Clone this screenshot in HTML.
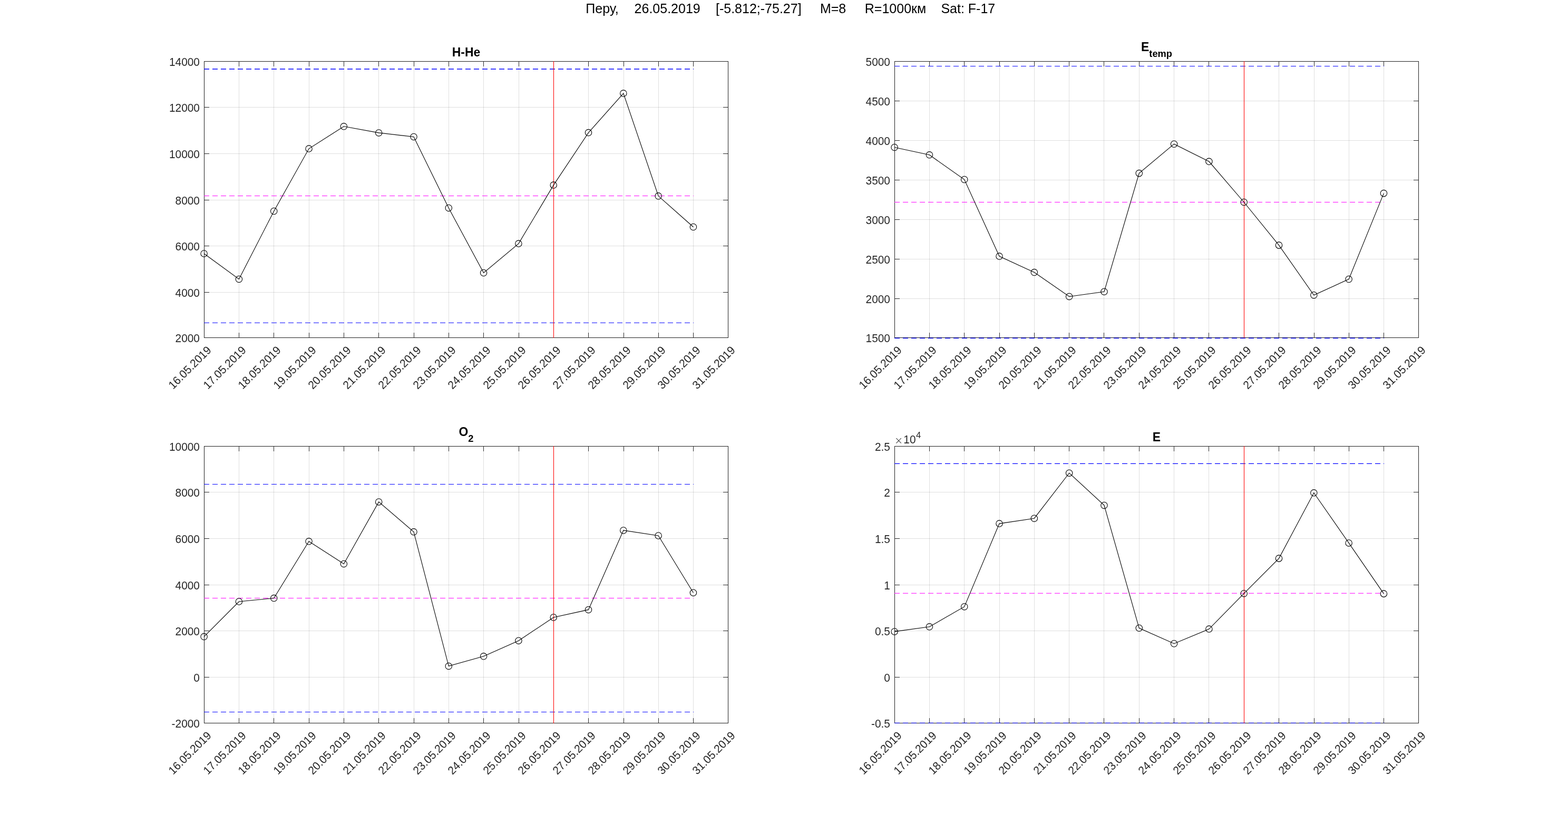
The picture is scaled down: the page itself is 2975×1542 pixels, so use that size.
<!DOCTYPE html>
<html><head><meta charset="utf-8"><title>Перу 26.05.2019</title>
<style>
html,body{margin:0;padding:0;background:#fff;width:2975px;height:1542px;overflow:hidden}
svg{display:block}
text{font-family:"Liberation Sans",Arial,Helvetica,sans-serif}
.tk{font-size:20.83px;fill:#262626}
.tt{font-size:22.9px;font-weight:bold;fill:#000}
.st{font-size:25px;fill:#000}
</style></head><body>
<svg width="2975" height="1542" viewBox="0 0 2975 1542">
<rect x="0" y="0" width="2975" height="1542" fill="#fff"/>
<text class="st" transform="translate(1111.3 25) scale(1 1.04)">Перу,</text>
<text class="st" transform="translate(1203.6 25) scale(1 1.04)">26.05.2019</text>
<text class="st" transform="translate(1358 25) scale(1 1.04)">[-5.812;-75.27]</text>
<text class="st" transform="translate(1555.9 25) scale(1 1.04)">M=8</text>
<text class="st" transform="translate(1640.8 25) scale(1 1.04)">R=1000км</text>
<text class="st" transform="translate(1785.4 25) scale(1 1.04)">Sat: F-17</text>
<g>
<path d="M453.5 117 V640 M519.5 117 V640 M586.5 117 V640 M652.5 117 V640 M718.5 117 V640 M785.5 117 V640 M851.5 117 V640 M917.5 117 V640 M984.5 117 V640 M1050.5 117 V640 M1116.5 117 V640 M1183.5 117 V640 M1249.5 117 V640 M1315.5 117 V640 M388 203.5 H1381 M388 291.5 H1381 M388 379.5 H1381 M388 466.5 H1381 M388 554.5 H1381" stroke="#262626" stroke-opacity="0.15" stroke-width="1" fill="none"/>
<path d="M453.5 116 v10 M453.5 641 v-10 M519.5 116 v10 M519.5 641 v-10 M586.5 116 v10 M586.5 641 v-10 M652.5 116 v10 M652.5 641 v-10 M718.5 116 v10 M718.5 641 v-10 M785.5 116 v10 M785.5 641 v-10 M851.5 116 v10 M851.5 641 v-10 M917.5 116 v10 M917.5 641 v-10 M984.5 116 v10 M984.5 641 v-10 M1050.5 116 v10 M1050.5 641 v-10 M1116.5 116 v10 M1116.5 641 v-10 M1183.5 116 v10 M1183.5 641 v-10 M1249.5 116 v10 M1249.5 641 v-10 M1315.5 116 v10 M1315.5 641 v-10 M387 203.5 h10 M1382 203.5 h-10 M387 291.5 h10 M1382 291.5 h-10 M387 379.5 h10 M1382 379.5 h-10 M387 466.5 h10 M1382 466.5 h-10 M387 554.5 h10 M1382 554.5 h-10" stroke="#262626" stroke-width="1" fill="none"/>
<rect x="387.5" y="116.5" width="994" height="524" stroke="#262626" stroke-width="1.05" fill="none"/>
<path d="M387 131 H1316" stroke="#0000ff" stroke-width="1.33" stroke-dasharray="10 6" fill="none"/>
<path d="M387 612.3 H1316" stroke="#0000ff" stroke-width="1.1" stroke-dasharray="10 6" fill="none"/>
<path d="M387 371.5 H1316" stroke="#ff00ff" stroke-width="1.1" stroke-dasharray="10 6" fill="none"/>
<path d="M1050.5 116 V641" stroke="#ff0000" stroke-width="1.05" fill="none"/>
<polyline points="387.1,481 453.41,529.4 519.72,400.5 586.03,282.1 652.34,239.8 718.65,251.9 784.96,259.5 851.27,394.4 917.58,517.5 983.89,462.1 1050.2,351.1 1116.51,251.6 1182.82,177.1 1249.13,371.8 1315.44,430.5" stroke="#000" stroke-width="1.1" fill="none" stroke-linejoin="miter"/>
<path d="M380.9 481 a6.2 6.2 0 1 0 12.4 0 a6.2 6.2 0 1 0 -12.4 0 M447.21 529.4 a6.2 6.2 0 1 0 12.4 0 a6.2 6.2 0 1 0 -12.4 0 M513.52 400.5 a6.2 6.2 0 1 0 12.4 0 a6.2 6.2 0 1 0 -12.4 0 M579.83 282.1 a6.2 6.2 0 1 0 12.4 0 a6.2 6.2 0 1 0 -12.4 0 M646.14 239.8 a6.2 6.2 0 1 0 12.4 0 a6.2 6.2 0 1 0 -12.4 0 M712.45 251.9 a6.2 6.2 0 1 0 12.4 0 a6.2 6.2 0 1 0 -12.4 0 M778.76 259.5 a6.2 6.2 0 1 0 12.4 0 a6.2 6.2 0 1 0 -12.4 0 M845.07 394.4 a6.2 6.2 0 1 0 12.4 0 a6.2 6.2 0 1 0 -12.4 0 M911.38 517.5 a6.2 6.2 0 1 0 12.4 0 a6.2 6.2 0 1 0 -12.4 0 M977.69 462.1 a6.2 6.2 0 1 0 12.4 0 a6.2 6.2 0 1 0 -12.4 0 M1044 351.1 a6.2 6.2 0 1 0 12.4 0 a6.2 6.2 0 1 0 -12.4 0 M1110.31 251.6 a6.2 6.2 0 1 0 12.4 0 a6.2 6.2 0 1 0 -12.4 0 M1176.62 177.1 a6.2 6.2 0 1 0 12.4 0 a6.2 6.2 0 1 0 -12.4 0 M1242.93 371.8 a6.2 6.2 0 1 0 12.4 0 a6.2 6.2 0 1 0 -12.4 0 M1309.24 430.5 a6.2 6.2 0 1 0 12.4 0 a6.2 6.2 0 1 0 -12.4 0" stroke="#000" stroke-width="1.1" fill="none"/>
<text class="tk" text-anchor="end" transform="translate(378.9 124.5) scale(1 1.04)">14000</text>
<text class="tk" text-anchor="end" transform="translate(378.9 211.5) scale(1 1.04)">12000</text>
<text class="tk" text-anchor="end" transform="translate(378.9 299.5) scale(1 1.04)">10000</text>
<text class="tk" text-anchor="end" transform="translate(378.9 387.5) scale(1 1.04)">8000</text>
<text class="tk" text-anchor="end" transform="translate(378.9 474.5) scale(1 1.04)">6000</text>
<text class="tk" text-anchor="end" transform="translate(378.9 562.5) scale(1 1.04)">4000</text>
<text class="tk" text-anchor="end" transform="translate(378.9 648.5) scale(1 1.04)">2000</text>
<text class="tk" text-anchor="end" transform="translate(402.1 665.5) rotate(-45) scale(1 1.04)">16.05.2019</text>
<text class="tk" text-anchor="end" transform="translate(468.1 665.5) rotate(-45) scale(1 1.04)">17.05.2019</text>
<text class="tk" text-anchor="end" transform="translate(534.1 665.5) rotate(-45) scale(1 1.04)">18.05.2019</text>
<text class="tk" text-anchor="end" transform="translate(601.1 665.5) rotate(-45) scale(1 1.04)">19.05.2019</text>
<text class="tk" text-anchor="end" transform="translate(667.1 665.5) rotate(-45) scale(1 1.04)">20.05.2019</text>
<text class="tk" text-anchor="end" transform="translate(733.1 665.5) rotate(-45) scale(1 1.04)">21.05.2019</text>
<text class="tk" text-anchor="end" transform="translate(800.1 665.5) rotate(-45) scale(1 1.04)">22.05.2019</text>
<text class="tk" text-anchor="end" transform="translate(866.1 665.5) rotate(-45) scale(1 1.04)">23.05.2019</text>
<text class="tk" text-anchor="end" transform="translate(932.1 665.5) rotate(-45) scale(1 1.04)">24.05.2019</text>
<text class="tk" text-anchor="end" transform="translate(999.1 665.5) rotate(-45) scale(1 1.04)">25.05.2019</text>
<text class="tk" text-anchor="end" transform="translate(1065.1 665.5) rotate(-45) scale(1 1.04)">26.05.2019</text>
<text class="tk" text-anchor="end" transform="translate(1131.1 665.5) rotate(-45) scale(1 1.04)">27.05.2019</text>
<text class="tk" text-anchor="end" transform="translate(1198.1 665.5) rotate(-45) scale(1 1.04)">28.05.2019</text>
<text class="tk" text-anchor="end" transform="translate(1264.1 665.5) rotate(-45) scale(1 1.04)">29.05.2019</text>
<text class="tk" text-anchor="end" transform="translate(1330.1 665.5) rotate(-45) scale(1 1.04)">30.05.2019</text>
<text class="tk" text-anchor="end" transform="translate(1396.1 665.5) rotate(-45) scale(1 1.04)">31.05.2019</text>
<text class="tt" text-anchor="middle" transform="translate(884.5 106.8) scale(1 1.04)">H-He</text>
</g>
<g>
<path d="M1763.5 117 V640 M1829.5 117 V640 M1896.5 117 V640 M1962.5 117 V640 M2028.5 117 V640 M2094.5 117 V640 M2161.5 117 V640 M2227.5 117 V640 M2293.5 117 V640 M2360.5 117 V640 M2426.5 117 V640 M2493.5 117 V640 M2559.5 117 V640 M2625.5 117 V640 M1698 191.5 H2691 M1698 266.5 H2691 M1698 341.5 H2691 M1698 416.5 H2691 M1698 491.5 H2691 M1698 566.5 H2691" stroke="#262626" stroke-opacity="0.15" stroke-width="1" fill="none"/>
<path d="M1763.5 116 v10 M1763.5 641 v-10 M1829.5 116 v10 M1829.5 641 v-10 M1896.5 116 v10 M1896.5 641 v-10 M1962.5 116 v10 M1962.5 641 v-10 M2028.5 116 v10 M2028.5 641 v-10 M2094.5 116 v10 M2094.5 641 v-10 M2161.5 116 v10 M2161.5 641 v-10 M2227.5 116 v10 M2227.5 641 v-10 M2293.5 116 v10 M2293.5 641 v-10 M2360.5 116 v10 M2360.5 641 v-10 M2426.5 116 v10 M2426.5 641 v-10 M2493.5 116 v10 M2493.5 641 v-10 M2559.5 116 v10 M2559.5 641 v-10 M2625.5 116 v10 M2625.5 641 v-10 M1697 191.5 h10 M2692 191.5 h-10 M1697 266.5 h10 M2692 266.5 h-10 M1697 341.5 h10 M2692 341.5 h-10 M1697 416.5 h10 M2692 416.5 h-10 M1697 491.5 h10 M2692 491.5 h-10 M1697 566.5 h10 M2692 566.5 h-10" stroke="#262626" stroke-width="1" fill="none"/>
<rect x="1697.5" y="116.5" width="994" height="524" stroke="#262626" stroke-width="1.05" fill="none"/>
<path d="M1697 125.5 H2626" stroke="#0000ff" stroke-width="1.1" stroke-dasharray="10 6" fill="none"/>
<path d="M1697 641.4 H2626" stroke="#0000ff" stroke-width="1.1" stroke-dasharray="10 6" fill="none"/>
<path d="M1697 383.5 H2626" stroke="#ff00ff" stroke-width="1.1" stroke-dasharray="10 6" fill="none"/>
<path d="M2360.5 116 V641" stroke="#ff0000" stroke-width="1.05" fill="none"/>
<polyline points="1697.1,279.5 1763.41,293.8 1829.72,340.5 1896.03,486.1 1962.34,516.6 2028.65,562.4 2094.96,553.2 2161.27,328.6 2227.58,273.2 2293.89,306.3 2360.2,383.5 2426.51,465.1 2492.82,559.7 2559.13,529.5 2625.44,366.6" stroke="#000" stroke-width="1.1" fill="none" stroke-linejoin="miter"/>
<path d="M1690.9 279.5 a6.2 6.2 0 1 0 12.4 0 a6.2 6.2 0 1 0 -12.4 0 M1757.21 293.8 a6.2 6.2 0 1 0 12.4 0 a6.2 6.2 0 1 0 -12.4 0 M1823.52 340.5 a6.2 6.2 0 1 0 12.4 0 a6.2 6.2 0 1 0 -12.4 0 M1889.83 486.1 a6.2 6.2 0 1 0 12.4 0 a6.2 6.2 0 1 0 -12.4 0 M1956.14 516.6 a6.2 6.2 0 1 0 12.4 0 a6.2 6.2 0 1 0 -12.4 0 M2022.45 562.4 a6.2 6.2 0 1 0 12.4 0 a6.2 6.2 0 1 0 -12.4 0 M2088.76 553.2 a6.2 6.2 0 1 0 12.4 0 a6.2 6.2 0 1 0 -12.4 0 M2155.07 328.6 a6.2 6.2 0 1 0 12.4 0 a6.2 6.2 0 1 0 -12.4 0 M2221.38 273.2 a6.2 6.2 0 1 0 12.4 0 a6.2 6.2 0 1 0 -12.4 0 M2287.69 306.3 a6.2 6.2 0 1 0 12.4 0 a6.2 6.2 0 1 0 -12.4 0 M2354 383.5 a6.2 6.2 0 1 0 12.4 0 a6.2 6.2 0 1 0 -12.4 0 M2420.31 465.1 a6.2 6.2 0 1 0 12.4 0 a6.2 6.2 0 1 0 -12.4 0 M2486.62 559.7 a6.2 6.2 0 1 0 12.4 0 a6.2 6.2 0 1 0 -12.4 0 M2552.93 529.5 a6.2 6.2 0 1 0 12.4 0 a6.2 6.2 0 1 0 -12.4 0 M2619.24 366.6 a6.2 6.2 0 1 0 12.4 0 a6.2 6.2 0 1 0 -12.4 0" stroke="#000" stroke-width="1.1" fill="none"/>
<text class="tk" text-anchor="end" transform="translate(1688.9 124.5) scale(1 1.04)">5000</text>
<text class="tk" text-anchor="end" transform="translate(1688.9 199.5) scale(1 1.04)">4500</text>
<text class="tk" text-anchor="end" transform="translate(1688.9 274.5) scale(1 1.04)">4000</text>
<text class="tk" text-anchor="end" transform="translate(1688.9 349.5) scale(1 1.04)">3500</text>
<text class="tk" text-anchor="end" transform="translate(1688.9 424.5) scale(1 1.04)">3000</text>
<text class="tk" text-anchor="end" transform="translate(1688.9 499.5) scale(1 1.04)">2500</text>
<text class="tk" text-anchor="end" transform="translate(1688.9 574.5) scale(1 1.04)">2000</text>
<text class="tk" text-anchor="end" transform="translate(1688.9 648.5) scale(1 1.04)">1500</text>
<text class="tk" text-anchor="end" transform="translate(1712.1 665.5) rotate(-45) scale(1 1.04)">16.05.2019</text>
<text class="tk" text-anchor="end" transform="translate(1778.1 665.5) rotate(-45) scale(1 1.04)">17.05.2019</text>
<text class="tk" text-anchor="end" transform="translate(1844.1 665.5) rotate(-45) scale(1 1.04)">18.05.2019</text>
<text class="tk" text-anchor="end" transform="translate(1911.1 665.5) rotate(-45) scale(1 1.04)">19.05.2019</text>
<text class="tk" text-anchor="end" transform="translate(1977.1 665.5) rotate(-45) scale(1 1.04)">20.05.2019</text>
<text class="tk" text-anchor="end" transform="translate(2043.1 665.5) rotate(-45) scale(1 1.04)">21.05.2019</text>
<text class="tk" text-anchor="end" transform="translate(2109.1 665.5) rotate(-45) scale(1 1.04)">22.05.2019</text>
<text class="tk" text-anchor="end" transform="translate(2176.1 665.5) rotate(-45) scale(1 1.04)">23.05.2019</text>
<text class="tk" text-anchor="end" transform="translate(2242.1 665.5) rotate(-45) scale(1 1.04)">24.05.2019</text>
<text class="tk" text-anchor="end" transform="translate(2308.1 665.5) rotate(-45) scale(1 1.04)">25.05.2019</text>
<text class="tk" text-anchor="end" transform="translate(2375.1 665.5) rotate(-45) scale(1 1.04)">26.05.2019</text>
<text class="tk" text-anchor="end" transform="translate(2441.1 665.5) rotate(-45) scale(1 1.04)">27.05.2019</text>
<text class="tk" text-anchor="end" transform="translate(2508.1 665.5) rotate(-45) scale(1 1.04)">28.05.2019</text>
<text class="tk" text-anchor="end" transform="translate(2574.1 665.5) rotate(-45) scale(1 1.04)">29.05.2019</text>
<text class="tk" text-anchor="end" transform="translate(2640.1 665.5) rotate(-45) scale(1 1.04)">30.05.2019</text>
<text class="tk" text-anchor="end" transform="translate(2706.1 665.5) rotate(-45) scale(1 1.04)">31.05.2019</text>
<text class="tt" text-anchor="middle" transform="translate(2194.5 96.7) scale(1 1.04)">E<tspan dy="11.1" style="font-size:18.3px">temp</tspan></text>
</g>
<g>
<path d="M453.5 847 V1371 M519.5 847 V1371 M586.5 847 V1371 M652.5 847 V1371 M718.5 847 V1371 M785.5 847 V1371 M851.5 847 V1371 M917.5 847 V1371 M984.5 847 V1371 M1050.5 847 V1371 M1116.5 847 V1371 M1183.5 847 V1371 M1249.5 847 V1371 M1315.5 847 V1371 M388 933.5 H1381 M388 1021.5 H1381 M388 1109.5 H1381 M388 1196.5 H1381 M388 1284.5 H1381" stroke="#262626" stroke-opacity="0.15" stroke-width="1" fill="none"/>
<path d="M453.5 846 v10 M453.5 1372 v-10 M519.5 846 v10 M519.5 1372 v-10 M586.5 846 v10 M586.5 1372 v-10 M652.5 846 v10 M652.5 1372 v-10 M718.5 846 v10 M718.5 1372 v-10 M785.5 846 v10 M785.5 1372 v-10 M851.5 846 v10 M851.5 1372 v-10 M917.5 846 v10 M917.5 1372 v-10 M984.5 846 v10 M984.5 1372 v-10 M1050.5 846 v10 M1050.5 1372 v-10 M1116.5 846 v10 M1116.5 1372 v-10 M1183.5 846 v10 M1183.5 1372 v-10 M1249.5 846 v10 M1249.5 1372 v-10 M1315.5 846 v10 M1315.5 1372 v-10 M387 933.5 h10 M1382 933.5 h-10 M387 1021.5 h10 M1382 1021.5 h-10 M387 1109.5 h10 M1382 1109.5 h-10 M387 1196.5 h10 M1382 1196.5 h-10 M387 1284.5 h10 M1382 1284.5 h-10" stroke="#262626" stroke-width="1" fill="none"/>
<rect x="387.5" y="846.5" width="994" height="525" stroke="#262626" stroke-width="1.05" fill="none"/>
<path d="M387 918.55 H1316" stroke="#0000ff" stroke-width="1.1" stroke-dasharray="10 6" fill="none"/>
<path d="M387 1350.5 H1316" stroke="#0000ff" stroke-width="1.1" stroke-dasharray="10 6" fill="none"/>
<path d="M387 1134.5 H1316" stroke="#ff00ff" stroke-width="1.1" stroke-dasharray="10 6" fill="none"/>
<path d="M1050.5 846 V1372" stroke="#ff0000" stroke-width="1.05" fill="none"/>
<polyline points="387.1,1207.6 453.41,1141 519.72,1134.6 586.03,1026.8 652.34,1069.4 718.65,951.9 784.96,1008.8 851.27,1263.4 917.58,1244.8 983.89,1215.2 1050.2,1171 1116.51,1156.4 1182.82,1005.9 1249.13,1016 1315.44,1124.2" stroke="#000" stroke-width="1.1" fill="none" stroke-linejoin="miter"/>
<path d="M380.9 1207.6 a6.2 6.2 0 1 0 12.4 0 a6.2 6.2 0 1 0 -12.4 0 M447.21 1141 a6.2 6.2 0 1 0 12.4 0 a6.2 6.2 0 1 0 -12.4 0 M513.52 1134.6 a6.2 6.2 0 1 0 12.4 0 a6.2 6.2 0 1 0 -12.4 0 M579.83 1026.8 a6.2 6.2 0 1 0 12.4 0 a6.2 6.2 0 1 0 -12.4 0 M646.14 1069.4 a6.2 6.2 0 1 0 12.4 0 a6.2 6.2 0 1 0 -12.4 0 M712.45 951.9 a6.2 6.2 0 1 0 12.4 0 a6.2 6.2 0 1 0 -12.4 0 M778.76 1008.8 a6.2 6.2 0 1 0 12.4 0 a6.2 6.2 0 1 0 -12.4 0 M845.07 1263.4 a6.2 6.2 0 1 0 12.4 0 a6.2 6.2 0 1 0 -12.4 0 M911.38 1244.8 a6.2 6.2 0 1 0 12.4 0 a6.2 6.2 0 1 0 -12.4 0 M977.69 1215.2 a6.2 6.2 0 1 0 12.4 0 a6.2 6.2 0 1 0 -12.4 0 M1044 1171 a6.2 6.2 0 1 0 12.4 0 a6.2 6.2 0 1 0 -12.4 0 M1110.31 1156.4 a6.2 6.2 0 1 0 12.4 0 a6.2 6.2 0 1 0 -12.4 0 M1176.62 1005.9 a6.2 6.2 0 1 0 12.4 0 a6.2 6.2 0 1 0 -12.4 0 M1242.93 1016 a6.2 6.2 0 1 0 12.4 0 a6.2 6.2 0 1 0 -12.4 0 M1309.24 1124.2 a6.2 6.2 0 1 0 12.4 0 a6.2 6.2 0 1 0 -12.4 0" stroke="#000" stroke-width="1.1" fill="none"/>
<text class="tk" text-anchor="end" transform="translate(378.9 854.5) scale(1 1.04)">10000</text>
<text class="tk" text-anchor="end" transform="translate(378.9 941.5) scale(1 1.04)">8000</text>
<text class="tk" text-anchor="end" transform="translate(378.9 1029.5) scale(1 1.04)">6000</text>
<text class="tk" text-anchor="end" transform="translate(378.9 1117.5) scale(1 1.04)">4000</text>
<text class="tk" text-anchor="end" transform="translate(378.9 1204.5) scale(1 1.04)">2000</text>
<text class="tk" text-anchor="end" transform="translate(378.9 1292.5) scale(1 1.04)">0</text>
<text class="tk" text-anchor="end" transform="translate(378.9 1379.5) scale(1 1.04)">-2000</text>
<text class="tk" text-anchor="end" transform="translate(402.1 1396.5) rotate(-45) scale(1 1.04)">16.05.2019</text>
<text class="tk" text-anchor="end" transform="translate(468.1 1396.5) rotate(-45) scale(1 1.04)">17.05.2019</text>
<text class="tk" text-anchor="end" transform="translate(534.1 1396.5) rotate(-45) scale(1 1.04)">18.05.2019</text>
<text class="tk" text-anchor="end" transform="translate(601.1 1396.5) rotate(-45) scale(1 1.04)">19.05.2019</text>
<text class="tk" text-anchor="end" transform="translate(667.1 1396.5) rotate(-45) scale(1 1.04)">20.05.2019</text>
<text class="tk" text-anchor="end" transform="translate(733.1 1396.5) rotate(-45) scale(1 1.04)">21.05.2019</text>
<text class="tk" text-anchor="end" transform="translate(800.1 1396.5) rotate(-45) scale(1 1.04)">22.05.2019</text>
<text class="tk" text-anchor="end" transform="translate(866.1 1396.5) rotate(-45) scale(1 1.04)">23.05.2019</text>
<text class="tk" text-anchor="end" transform="translate(932.1 1396.5) rotate(-45) scale(1 1.04)">24.05.2019</text>
<text class="tk" text-anchor="end" transform="translate(999.1 1396.5) rotate(-45) scale(1 1.04)">25.05.2019</text>
<text class="tk" text-anchor="end" transform="translate(1065.1 1396.5) rotate(-45) scale(1 1.04)">26.05.2019</text>
<text class="tk" text-anchor="end" transform="translate(1131.1 1396.5) rotate(-45) scale(1 1.04)">27.05.2019</text>
<text class="tk" text-anchor="end" transform="translate(1198.1 1396.5) rotate(-45) scale(1 1.04)">28.05.2019</text>
<text class="tk" text-anchor="end" transform="translate(1264.1 1396.5) rotate(-45) scale(1 1.04)">29.05.2019</text>
<text class="tk" text-anchor="end" transform="translate(1330.1 1396.5) rotate(-45) scale(1 1.04)">30.05.2019</text>
<text class="tk" text-anchor="end" transform="translate(1396.1 1396.5) rotate(-45) scale(1 1.04)">31.05.2019</text>
<text class="tt" text-anchor="middle" transform="translate(884.5 826.6) scale(1 1.04)">O<tspan dy="11.1" style="font-size:18.3px">2</tspan></text>
</g>
<g>
<path d="M1763.5 847 V1371 M1829.5 847 V1371 M1896.5 847 V1371 M1962.5 847 V1371 M2028.5 847 V1371 M2094.5 847 V1371 M2161.5 847 V1371 M2227.5 847 V1371 M2293.5 847 V1371 M2360.5 847 V1371 M2426.5 847 V1371 M2493.5 847 V1371 M2559.5 847 V1371 M2625.5 847 V1371 M1698 933.5 H2691 M1698 1021.5 H2691 M1698 1109.5 H2691 M1698 1196.5 H2691 M1698 1284.5 H2691" stroke="#262626" stroke-opacity="0.15" stroke-width="1" fill="none"/>
<path d="M1763.5 846 v10 M1763.5 1372 v-10 M1829.5 846 v10 M1829.5 1372 v-10 M1896.5 846 v10 M1896.5 1372 v-10 M1962.5 846 v10 M1962.5 1372 v-10 M2028.5 846 v10 M2028.5 1372 v-10 M2094.5 846 v10 M2094.5 1372 v-10 M2161.5 846 v10 M2161.5 1372 v-10 M2227.5 846 v10 M2227.5 1372 v-10 M2293.5 846 v10 M2293.5 1372 v-10 M2360.5 846 v10 M2360.5 1372 v-10 M2426.5 846 v10 M2426.5 1372 v-10 M2493.5 846 v10 M2493.5 1372 v-10 M2559.5 846 v10 M2559.5 1372 v-10 M2625.5 846 v10 M2625.5 1372 v-10 M1697 933.5 h10 M2692 933.5 h-10 M1697 1021.5 h10 M2692 1021.5 h-10 M1697 1109.5 h10 M2692 1109.5 h-10 M1697 1196.5 h10 M2692 1196.5 h-10 M1697 1284.5 h10 M2692 1284.5 h-10" stroke="#262626" stroke-width="1" fill="none"/>
<rect x="1697.5" y="846.5" width="994" height="525" stroke="#262626" stroke-width="1.05" fill="none"/>
<path d="M1697 879.4 H2626" stroke="#0000ff" stroke-width="1.1" stroke-dasharray="10 6" fill="none"/>
<path d="M1697 1371.3 H2626" stroke="#0000ff" stroke-width="1.1" stroke-dasharray="10 6" fill="none"/>
<path d="M1697 1125.3 H2626" stroke="#ff00ff" stroke-width="1.1" stroke-dasharray="10 6" fill="none"/>
<path d="M2360.5 846 V1372" stroke="#ff0000" stroke-width="1.05" fill="none"/>
<polyline points="1697.1,1197.9 1763.41,1188.8 1829.72,1150.7 1896.03,993.1 1962.34,983.2 2028.65,897.2 2094.96,958.4 2161.27,1191.3 2227.58,1220.7 2293.89,1193.1 2360.2,1125.7 2426.51,1059.1 2492.82,934.8 2559.13,1029.9 2625.44,1126.1" stroke="#000" stroke-width="1.1" fill="none" stroke-linejoin="miter"/>
<path d="M1690.9 1197.9 a6.2 6.2 0 1 0 12.4 0 a6.2 6.2 0 1 0 -12.4 0 M1757.21 1188.8 a6.2 6.2 0 1 0 12.4 0 a6.2 6.2 0 1 0 -12.4 0 M1823.52 1150.7 a6.2 6.2 0 1 0 12.4 0 a6.2 6.2 0 1 0 -12.4 0 M1889.83 993.1 a6.2 6.2 0 1 0 12.4 0 a6.2 6.2 0 1 0 -12.4 0 M1956.14 983.2 a6.2 6.2 0 1 0 12.4 0 a6.2 6.2 0 1 0 -12.4 0 M2022.45 897.2 a6.2 6.2 0 1 0 12.4 0 a6.2 6.2 0 1 0 -12.4 0 M2088.76 958.4 a6.2 6.2 0 1 0 12.4 0 a6.2 6.2 0 1 0 -12.4 0 M2155.07 1191.3 a6.2 6.2 0 1 0 12.4 0 a6.2 6.2 0 1 0 -12.4 0 M2221.38 1220.7 a6.2 6.2 0 1 0 12.4 0 a6.2 6.2 0 1 0 -12.4 0 M2287.69 1193.1 a6.2 6.2 0 1 0 12.4 0 a6.2 6.2 0 1 0 -12.4 0 M2354 1125.7 a6.2 6.2 0 1 0 12.4 0 a6.2 6.2 0 1 0 -12.4 0 M2420.31 1059.1 a6.2 6.2 0 1 0 12.4 0 a6.2 6.2 0 1 0 -12.4 0 M2486.62 934.8 a6.2 6.2 0 1 0 12.4 0 a6.2 6.2 0 1 0 -12.4 0 M2552.93 1029.9 a6.2 6.2 0 1 0 12.4 0 a6.2 6.2 0 1 0 -12.4 0 M2619.24 1126.1 a6.2 6.2 0 1 0 12.4 0 a6.2 6.2 0 1 0 -12.4 0" stroke="#000" stroke-width="1.1" fill="none"/>
<text class="tk" text-anchor="end" transform="translate(1688.9 854.5) scale(1 1.04)">2.5</text>
<text class="tk" text-anchor="end" transform="translate(1688.9 941.5) scale(1 1.04)">2</text>
<text class="tk" text-anchor="end" transform="translate(1688.9 1029.5) scale(1 1.04)">1.5</text>
<text class="tk" text-anchor="end" transform="translate(1688.9 1117.5) scale(1 1.04)">1</text>
<text class="tk" text-anchor="end" transform="translate(1688.9 1204.5) scale(1 1.04)">0.5</text>
<text class="tk" text-anchor="end" transform="translate(1688.9 1292.5) scale(1 1.04)">0</text>
<text class="tk" text-anchor="end" transform="translate(1688.9 1379.5) scale(1 1.04)">-0.5</text>
<text class="tk" text-anchor="end" transform="translate(1712.1 1396.5) rotate(-45) scale(1 1.04)">16.05.2019</text>
<text class="tk" text-anchor="end" transform="translate(1778.1 1396.5) rotate(-45) scale(1 1.04)">17.05.2019</text>
<text class="tk" text-anchor="end" transform="translate(1844.1 1396.5) rotate(-45) scale(1 1.04)">18.05.2019</text>
<text class="tk" text-anchor="end" transform="translate(1911.1 1396.5) rotate(-45) scale(1 1.04)">19.05.2019</text>
<text class="tk" text-anchor="end" transform="translate(1977.1 1396.5) rotate(-45) scale(1 1.04)">20.05.2019</text>
<text class="tk" text-anchor="end" transform="translate(2043.1 1396.5) rotate(-45) scale(1 1.04)">21.05.2019</text>
<text class="tk" text-anchor="end" transform="translate(2109.1 1396.5) rotate(-45) scale(1 1.04)">22.05.2019</text>
<text class="tk" text-anchor="end" transform="translate(2176.1 1396.5) rotate(-45) scale(1 1.04)">23.05.2019</text>
<text class="tk" text-anchor="end" transform="translate(2242.1 1396.5) rotate(-45) scale(1 1.04)">24.05.2019</text>
<text class="tk" text-anchor="end" transform="translate(2308.1 1396.5) rotate(-45) scale(1 1.04)">25.05.2019</text>
<text class="tk" text-anchor="end" transform="translate(2375.1 1396.5) rotate(-45) scale(1 1.04)">26.05.2019</text>
<text class="tk" text-anchor="end" transform="translate(2441.1 1396.5) rotate(-45) scale(1 1.04)">27.05.2019</text>
<text class="tk" text-anchor="end" transform="translate(2508.1 1396.5) rotate(-45) scale(1 1.04)">28.05.2019</text>
<text class="tk" text-anchor="end" transform="translate(2574.1 1396.5) rotate(-45) scale(1 1.04)">29.05.2019</text>
<text class="tk" text-anchor="end" transform="translate(2640.1 1396.5) rotate(-45) scale(1 1.04)">30.05.2019</text>
<text class="tk" text-anchor="end" transform="translate(2706.1 1396.5) rotate(-45) scale(1 1.04)">31.05.2019</text>
<text class="tt" text-anchor="middle" transform="translate(2194.5 836.7) scale(1 1.04)">E</text>
<text class="tk" transform="translate(0 0) scale(1 1.04)"><tspan x="1696.9" y="809.47" style="font-family:'DejaVu Sans',sans-serif;font-weight:200;font-size:19.36px">×</tspan><tspan x="1714.3" y="808.37">10</tspan><tspan x="1737.9" y="798.75" style="font-size:16.67px">4</tspan></text>
</g>
</svg>
</body></html>
